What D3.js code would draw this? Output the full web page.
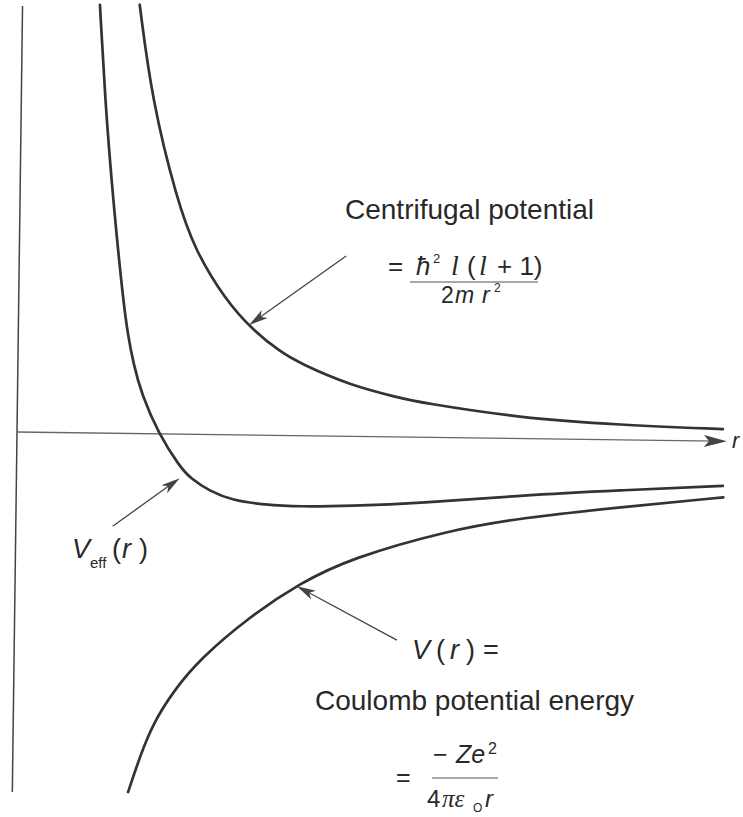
<!DOCTYPE html>
<html>
<head>
<meta charset="utf-8">
<script src="https://cdn.jsdelivr.net/npm/d3@7"></script>
<style>
  html, body { margin: 0; background: #fff; }
  svg text { fill: #282828; }
</style>
</head>
<body>
<svg id="chart" width="743" height="817"></svg>
<script>
// Centrifugal potential  ħ² l(l+1) / 2mr²
const centrifugalR = [1.65, 1.84, 2.21, 2.47, 2.91, 3.30, 3.69, 3.97, 4.68, 5.39, 5.67, 7.08, 8.49, 9.94];
const centrifugalV = [6.04, 4.70, 3.30, 2.60, 1.90, 1.48, 1.18, 1.02, 0.72, 0.55, 0.49, 0.29, 0.21, 0.17];

// Effective potential  V_eff(r)
const effectiveR = [1.09, 1.18, 1.31, 1.47, 1.54, 1.63, 1.75, 1.99, 2.30, 2.45, 2.73, 3.04, 3.50, 4.00, 4.70, 5.69, 7.10, 8.50, 9.95];
const effectiveV = [6.03, 4.69, 3.29, 1.88, 1.41, 0.97, 0.55, 0.01, -0.46, -0.62, -0.80, -0.92, -0.98, -1.00, -0.98, -0.93, -0.80, -0.71, -0.63];

// Coulomb potential energy  −Ze² / 4πε₀r
const coulombR = [1.63, 1.80, 1.97, 2.25, 2.62, 3.32, 4.01, 4.71, 6.12, 7.10, 8.51, 9.96];
const coulombV = [-5.05, -4.52, -4.08, -3.62, -3.16, -2.55, -2.08, -1.72, -1.30, -1.12, -0.95, -0.79];

const rDomain = [0, 10];
const vDomain = [-5.07, 6.0];

const SANS = '"Liberation Sans", Arial, Helvetica, sans-serif';
const SERIF = '"Liberation Serif", "Times New Roman", serif';

const svg = d3.select("#chart");
const origin = { x: 17, y: 432 };
const tilt = 0.745; // degrees, whole figure slightly turned

const x = d3.scaleLinear().domain(rDomain).range([0, 710]);
const y = d3.scaleLinear().domain(vDomain).range([360, -426]);

function toScreen(r, v) {
  const a = tilt * Math.PI / 180, px = x(r), py = y(v);
  return [origin.x + px * Math.cos(a) - py * Math.sin(a),
          origin.y + px * Math.sin(a) + py * Math.cos(a)];
}

// Barbed arrowhead path with the tip at (tx, ty) pointing along angle ang
function arrowHead(tx, ty, ang, len, half, notch) {
  const c = Math.cos(ang), s = Math.sin(ang);
  const pt = (a, b) => [tx - a * c + b * s, ty - a * s - b * c];
  const p = [pt(0, 0), pt(len, half), pt(len - notch, 0), pt(len, -half)];
  return "M" + p.map(q => q.join(",")).join("L") + "Z";
}

const plot = svg.append("g")
  .attr("transform", `translate(${origin.x},${origin.y}) rotate(${tilt})`);

// Axes
plot.append("line")
  .attr("x1", x(0)).attr("x2", x(0))
  .attr("y1", y(vDomain[1])).attr("y2", y(vDomain[0]))
  .attr("stroke", "#444").attr("stroke-width", 1.5);

plot.append("line")
  .attr("x1", x(0)).attr("x2", x(rDomain[1]) - 10)
  .attr("y1", y(0)).attr("y2", y(0))
  .attr("stroke", "#666").attr("stroke-width", 1.3);

plot.append("path")
  .attr("d", arrowHead(x(rDomain[1]), y(0), 0, 23, 6, 5))
  .attr("fill", "#444");

// Curves
const line = d3.line()
  .x(d => x(d[0])).y(d => y(d[1]))
  .curve(d3.curveBasis);

const series = [
  d3.zip(centrifugalR, centrifugalV),
  d3.zip(effectiveR, effectiveV),
  d3.zip(coulombR, coulombV)
];

plot.selectAll("path.curve")
  .data(series)
  .join("path")
  .attr("class", "curve")
  .attr("d", line)
  .attr("fill", "none")
  .attr("stroke", "#333")
  .attr("stroke-width", 2.7)
  .attr("stroke-linecap", "round");

// Pointer arrows to the curves
const pointers = [
  { r: 3.25, v: 1.55, dx: 97, dy: -69 },   // centrifugal
  { r: 2.30, v: -0.62, dx: -67, dy: 48 },  // effective
  { r: 3.97, v: -2.12, dx: 100, dy: 54 }   // Coulomb
];

pointers.forEach(p => {
  const [tx, ty] = toScreen(p.r, p.v);
  const ang = Math.atan2(-p.dy, -p.dx);
  svg.append("line")
    .attr("x1", tx + p.dx).attr("y1", ty + p.dy)
    .attr("x2", tx - 8 * Math.cos(ang)).attr("y2", ty - 8 * Math.sin(ang))
    .attr("stroke", "#444").attr("stroke-width", 1.3);
  svg.append("path")
    .attr("d", arrowHead(tx, ty, ang, 19, 5, 5))
    .attr("fill", "#444");
});

// Axis label
const [ax, ay] = toScreen(rDomain[1], 0);
svg.append("text")
  .attr("x", ax + 5).attr("y", ay + 7)
  .style("font-family", SANS)
  .attr("font-size", 22).attr("font-style", "italic")
  .text("r");

// Text annotations
const T = svg.append("g").style("font-family", SANS);

function put(g, tx, ty, str, opts = {}) {
  const t = g.append("text").attr("x", tx).attr("y", ty).text(str);
  if (opts.size) t.attr("font-size", opts.size);
  if (opts.italic) t.attr("font-style", "italic");
  if (opts.serif) t.style("font-family", SERIF);
  return t;
}

put(T, 345, 219, "Centrifugal potential", { size: 28 });

// ħ² l(l + 1) / 2m r²
const num1 = T.append("g").attr("font-size", 26);
put(num1, 388, 275, "=");
put(num1, 416, 275, "ħ", { italic: true });
put(num1, 433, 263, "2", { size: 13 });
put(num1, 451, 275, "l", { italic: true, serif: true, size: 28 });
put(num1, 467, 275, "(");
put(num1, 479, 275, "l", { italic: true, serif: true, size: 28 });
put(num1, 497, 275, "+ 1)");
T.append("line").attr("x1", 410).attr("x2", 538).attr("y1", 282).attr("y2", 282)
  .attr("stroke", "#555").attr("stroke-width", 1.2);
const den1 = T.append("g").attr("font-size", 23);
put(den1, 441, 303, "2");
put(den1, 455, 303, "m", { italic: true });
put(den1, 482, 303, "r", { italic: true });
put(den1, 494, 292, "2", { size: 12 });

// V_eff(r)
const veff = T.append("g").attr("font-size", 27);
put(veff, 72, 558, "V", { italic: true });
put(veff, 90, 568, "eff", { size: 15 });
put(veff, 112, 558, "(");
put(veff, 122, 558, "r", { italic: true });
put(veff, 139, 558, ")");

// V(r) =
const vr = T.append("g").attr("font-size", 27);
put(vr, 412, 659, "V", { italic: true });
put(vr, 436, 659, "(");
put(vr, 450, 659, "r", { italic: true });
put(vr, 466, 659, ")");
put(vr, 483, 659, "=");

put(T, 315, 710, "Coulomb potential energy", { size: 28 });

// −Ze² / 4πε₀r
const num2 = T.append("g").attr("font-size", 25);
put(num2, 396, 786, "=");
put(num2, 433, 763, "−");
put(num2, 456, 763, "Ze", { italic: true });
put(num2, 488, 754, "2", { size: 16 });
T.append("line").attr("x1", 432).attr("x2", 498).attr("y1", 778).attr("y2", 778)
  .attr("stroke", "#555").attr("stroke-width", 1.2);
const den2 = T.append("g").attr("font-size", 24);
put(den2, 427, 807, "4");
put(den2, 442, 807, "πε", { italic: true, serif: true, size: 25 });
put(den2, 473, 812, "O", { size: 12 });
put(den2, 485, 807, "r", { italic: true });
</script>
</body>
</html>
